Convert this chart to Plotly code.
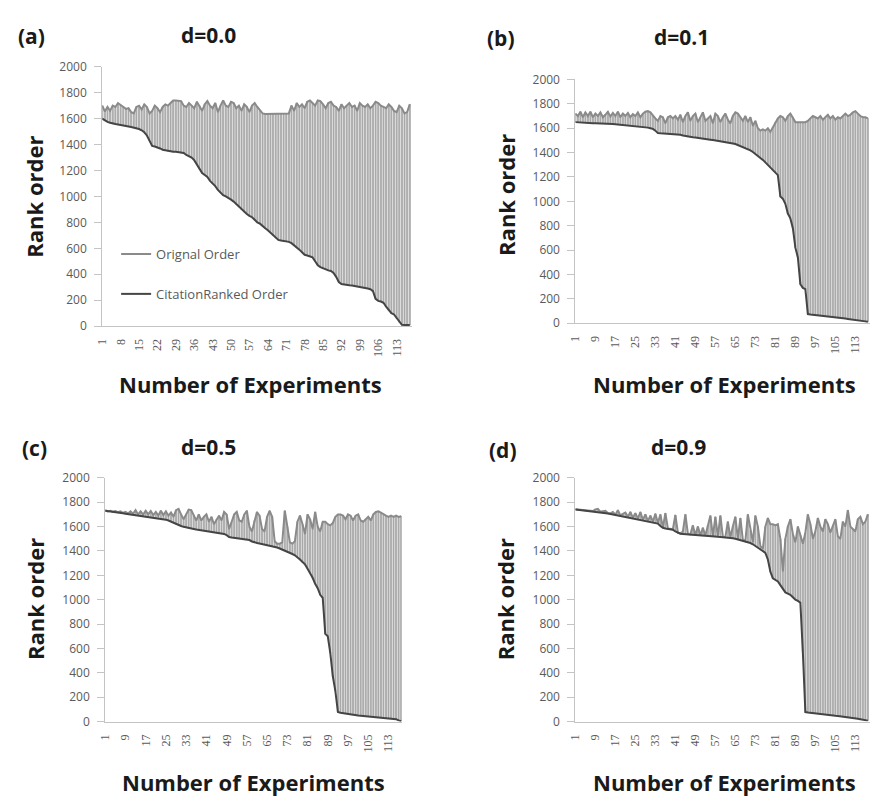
import plotly.graph_objects as go

# ---------------- data ----------------
experiments = list(range(1, 119))

x_ticks_a = list(range(1, 114, 7))
x_ticks_bcd = list(range(1, 114, 8))
y_ticks = list(range(0, 2001, 200))

panel_labels = ["(a)", "(b)", "(c)", "(d)"]
d_titles = ["d=0.0", "d=0.1", "d=0.5", "d=0.9"]
series_names = ["Orignal Order", "CitationRanked Order"]
x_title = "Number of Experiments"
y_title = "Rank order"

a_orig = [1700, 1655, 1690, 1660, 1700, 1690, 1720, 1705, 1690, 1675,
          1680, 1650, 1640, 1690, 1700, 1670, 1710, 1690, 1640, 1660,
          1700, 1680, 1650, 1690, 1710, 1700, 1720, 1740, 1740, 1738,
          1735, 1700, 1690, 1720, 1700, 1680, 1730, 1700, 1660, 1710,
          1735, 1700, 1680, 1720, 1650, 1700, 1740, 1700, 1690, 1730,
          1720, 1680, 1700, 1660, 1710, 1690, 1650, 1700, 1720, 1690,
          1660, 1640, 1635, 1635, 1635, 1635, 1635, 1635, 1635, 1635,
          1635, 1640, 1700, 1660, 1720, 1690, 1710, 1680, 1730, 1740,
          1720, 1700, 1740, 1735, 1710, 1680, 1720, 1730, 1700, 1690,
          1660, 1710, 1680, 1700, 1720, 1690, 1700, 1660, 1720, 1700,
          1690, 1710, 1680, 1700, 1730, 1720, 1700, 1690, 1680, 1710,
          1690, 1660, 1650, 1700, 1680, 1640, 1650, 1710]
a_rank = [1600, 1585, 1575, 1568, 1560, 1558, 1555, 1552, 1550, 1548,
          1540, 1535, 1530, 1528, 1520, 1510, 1495, 1470, 1430, 1390,
          1385, 1380, 1370, 1360, 1355, 1350, 1348, 1345, 1345, 1340,
          1338, 1335, 1320, 1310, 1300, 1280, 1250, 1210, 1180, 1165,
          1150, 1120, 1100, 1080, 1050, 1030, 1010, 1000, 990, 975,
          960, 940, 920, 900, 880, 865, 850, 840, 820, 800,
          790, 770, 755, 740, 720, 700, 680, 665, 660, 658,
          655, 650, 640, 625, 605, 590, 570, 550, 545, 540,
          530, 500, 470, 455, 445, 438, 430, 425, 410, 380,
          340, 325, 320, 318, 315, 313, 310, 305, 300, 298,
          295, 290, 285, 270, 210, 195, 190, 180, 150, 120,
          100, 90, 60, 30, 10, 8, 8, 8]

b_orig = [1720, 1700, 1735, 1690, 1730, 1700, 1735, 1690, 1720, 1700,
          1730, 1690, 1710, 1735, 1695, 1725, 1700, 1735, 1690, 1720,
          1700, 1725, 1690, 1715, 1700, 1730, 1690, 1720, 1735, 1740,
          1730, 1700, 1680, 1660, 1700, 1690, 1640, 1690, 1700, 1680,
          1700, 1670, 1710, 1650, 1700, 1730, 1660, 1700, 1720, 1650,
          1690, 1730, 1660, 1680, 1700, 1640, 1720, 1700, 1650, 1690,
          1720, 1670, 1640, 1700, 1730, 1720, 1690, 1660, 1700, 1650,
          1690, 1620, 1660, 1600, 1580, 1590, 1580, 1600, 1570, 1610,
          1650, 1680, 1700, 1690, 1660, 1700, 1720, 1690, 1650, 1650,
          1650, 1650, 1650, 1660, 1680, 1700, 1690, 1680, 1700, 1670,
          1690, 1710, 1680, 1700, 1670, 1690, 1680, 1700, 1720, 1700,
          1710, 1730, 1740, 1720, 1700, 1690, 1690, 1680]
b_rank = [1650, 1648, 1646, 1645, 1644, 1643, 1642, 1641, 1640, 1640,
          1639, 1638, 1637, 1636, 1635, 1634, 1632, 1630, 1628, 1627,
          1626, 1625, 1623, 1621, 1620, 1618, 1615, 1612, 1608, 1605,
          1600, 1595, 1580, 1560, 1558, 1557, 1556, 1555, 1554, 1553,
          1552, 1550, 1546, 1540, 1535, 1530, 1528, 1526, 1524, 1520,
          1516, 1512, 1510, 1508, 1506, 1503, 1500, 1497, 1494, 1490,
          1487, 1482, 1478, 1475, 1470, 1462, 1455, 1448, 1440, 1430,
          1418, 1405, 1390, 1375, 1360, 1340, 1320, 1300, 1280, 1260,
          1240, 1215, 1040, 1020, 980, 900, 860, 780, 620, 540,
          320, 290, 280, 75, 72, 70, 68, 65, 63, 60,
          57, 55, 52, 50, 48, 45, 42, 40, 38, 35,
          33, 30, 28, 25, 23, 20, 15, 12]

c_orig = [1735, 1725, 1730, 1722, 1728, 1718, 1725, 1712, 1720, 1708,
          1725, 1705, 1735, 1700, 1725, 1698, 1730, 1700, 1728, 1695,
          1720, 1690, 1730, 1695, 1725, 1690, 1715, 1680, 1735, 1745,
          1700, 1660, 1700, 1740, 1735, 1690, 1650, 1700, 1650, 1680,
          1700, 1640, 1680, 1620, 1660, 1690, 1650, 1720, 1700, 1580,
          1640, 1700, 1720, 1650, 1640, 1700, 1730, 1600, 1560, 1650,
          1720, 1690, 1580, 1560, 1680, 1730, 1680, 1480, 1460, 1460,
          1470, 1730, 1600, 1470, 1460, 1480, 1640, 1690, 1620, 1540,
          1700, 1660, 1580, 1720, 1600, 1560, 1640, 1640, 1620, 1610,
          1630, 1680, 1700, 1700, 1690, 1660, 1700, 1690, 1650, 1690,
          1700, 1650, 1640, 1660, 1680, 1650, 1700, 1720, 1725, 1715,
          1700, 1690, 1680, 1690, 1680, 1690, 1680, 1685]
c_rank = [1730, 1728, 1725, 1722, 1720, 1716, 1712, 1710, 1706, 1703,
          1700, 1698, 1695, 1692, 1690, 1686, 1682, 1678, 1675, 1672,
          1668, 1665, 1662, 1660, 1657, 1650, 1640, 1630, 1620, 1612,
          1605, 1598, 1592, 1588, 1584, 1580, 1576, 1573, 1570, 1567,
          1565, 1562, 1558, 1555, 1552, 1548, 1544, 1540, 1530, 1515,
          1510, 1508, 1506, 1504, 1502, 1500, 1498, 1490, 1478, 1470,
          1466, 1462, 1458, 1454, 1450, 1446, 1442, 1435, 1428, 1420,
          1412, 1405, 1395, 1385, 1375, 1365, 1350, 1330, 1310, 1290,
          1255, 1220, 1180, 1130, 1095, 1040, 1015, 720, 700, 560,
          370, 250, 78, 72, 68, 64, 60, 57, 55, 52,
          50, 48, 46, 44, 42, 40, 38, 36, 35, 34,
          32, 30, 29, 28, 26, 20, 10, 3]

d_orig = [1742, 1740, 1738, 1737, 1735, 1733, 1730, 1728, 1740, 1745,
          1722, 1725, 1730, 1712, 1708, 1720, 1698, 1735, 1692, 1705,
          1715, 1680, 1720, 1672, 1710, 1665, 1720, 1655, 1700, 1645,
          1690, 1640, 1705, 1630, 1700, 1592, 1710, 1585, 1582, 1578,
          1695, 1550, 1545, 1560, 1700, 1540, 1537, 1610, 1530, 1600,
          1528, 1590, 1526, 1610, 1690, 1522, 1680, 1520, 1690, 1516,
          1515, 1640, 1510, 1600, 1680, 1500, 1670, 1490, 1480, 1700,
          1570, 1470, 1690, 1600, 1440, 1420, 1600, 1670, 1620, 1620,
          1610, 1620, 1500, 1230, 1500, 1600, 1660, 1540, 1470, 1600,
          1530, 1460, 1550, 1700, 1620, 1500, 1560, 1670, 1600, 1560,
          1660, 1620, 1550, 1600, 1660, 1520, 1500, 1640, 1600, 1735,
          1600, 1580, 1560, 1660, 1680, 1620, 1640, 1700]
d_rank = [1740, 1738, 1736, 1734, 1732, 1730, 1728, 1726, 1724, 1722,
          1720, 1716, 1712, 1708, 1704, 1700, 1696, 1692, 1688, 1684,
          1680, 1676, 1672, 1668, 1665, 1660, 1655, 1650, 1645, 1640,
          1636, 1632, 1630, 1625, 1605, 1590, 1585, 1582, 1580, 1575,
          1560, 1548, 1542, 1540, 1538, 1536, 1534, 1530, 1528, 1526,
          1525, 1524, 1523, 1522, 1521, 1520, 1518, 1516, 1515, 1514,
          1512, 1510, 1507, 1504, 1500, 1495, 1490, 1484, 1478, 1472,
          1465, 1455, 1440, 1425, 1410, 1395, 1385, 1330, 1230, 1175,
          1165, 1150, 1120, 1090, 1060, 1050, 1040, 1020, 1000, 990,
          975, 570, 78, 75, 72, 70, 67, 65, 62, 60,
          58, 55, 52, 50, 48, 46, 44, 42, 40, 38,
          35, 32, 28, 24, 20, 15, 10, 8]

# ---------------- layout helpers ----------------
W, H = 870, 803


def fx(px):
    return px / W


def fy(py):
    return 1 - py / H


FONT = "Open Sans"
ORIG_COLOR = "#8a8a8a"
RANK_COLOR = "#454545"
AXIS_COLOR = "#c4c4c4"
TICK_COLOR = "#5a5a5a"

# pixel geometry: x0 = pixel of category 1, step = pixels per category
panels = [
    dict(orig=a_orig, rank=a_rank, ticks=x_ticks_a, x0=96, step=2.65, py=(59, 324), xend=408,
         lab=(25, 28), tit=(203, 27), ytit=(27, 192), xtit=(245, 383)),
    dict(orig=b_orig, rank=b_rank, ticks=x_ticks_bcd, x0=573, step=2.52, py=(72, 321), xend=870,
         lab=(498, 30), tit=(680, 29), ytit=(503, 190), xtit=(723, 383)),
    dict(orig=c_orig, rank=c_rank, ticks=x_ticks_bcd, x0=99, step=2.55, py=(479, 728), xend=398,
         lab=(28, 449), tit=(203, 447), ytit=(28, 603), xtit=(248, 790)),
    dict(orig=d_orig, rank=d_rank, ticks=x_ticks_bcd, x0=573, step=2.52, py=(479, 728), xend=870,
         lab=(500, 451), tit=(677, 447), ytit=(502, 603), xtit=(723, 790)),
]

fig = go.Figure()
layout = {}
annotations = []


def ann(text, xy, size, angle=0):
    return dict(text=text, x=fx(xy[0]), y=fy(xy[1]), xref="paper", yref="paper",
                xanchor="center", yanchor="middle", showarrow=False, textangle=angle,
                font=dict(family=FONT, size=size, color="#1a1a1a"))


for k, p in enumerate(panels):
    n = k + 1
    xa = "x" if n == 1 else f"x{n}"
    ya = "y" if n == 1 else f"y{n}"
    diffs = [o - r for o, r in zip(p["orig"], p["rank"])]

    # high-low bars between the two series
    fig.add_trace(go.Bar(
        x=experiments, y=diffs, base=p["rank"], width=0.45,
        marker=dict(color="#c6c6c6", line=dict(color="#7a7a7a", width=0.5)),
        showlegend=False, hoverinfo="skip", xaxis=xa, yaxis=ya))
    fig.add_trace(go.Scatter(
        x=experiments, y=p["orig"], mode="lines", name=series_names[0],
        line=dict(color=ORIG_COLOR, width=2), showlegend=(n == 1),
        legendgroup="g1", xaxis=xa, yaxis=ya))
    fig.add_trace(go.Scatter(
        x=experiments, y=p["rank"], mode="lines", name=series_names[1],
        line=dict(color=RANK_COLOR, width=2), showlegend=(n == 1),
        legendgroup="g2", xaxis=xa, yaxis=ya))

    xmax = 1 + (p["xend"] - p["x0"]) / p["step"]
    layout["xaxis" if n == 1 else f"xaxis{n}"] = dict(
        domain=[fx(p["x0"]), fx(p["xend"])], range=[1, xmax],
        anchor=ya, showgrid=False, zeroline=False, showline=True,
        linecolor=AXIS_COLOR, linewidth=1, ticks="",
        tickmode="array", tickvals=p["ticks"], ticktext=[str(t) for t in p["ticks"]],
        tickangle=-90, ticklabelstandoff=7,
        tickfont=dict(family="Liberation Serif", size=12, color=TICK_COLOR))
    layout["yaxis" if n == 1 else f"yaxis{n}"] = dict(
        domain=[fy(p["py"][1]), fy(p["py"][0])], range=[0, 2000],
        anchor=xa, showgrid=False, zeroline=False, showline=True,
        linecolor=AXIS_COLOR, linewidth=1, ticks="outside", ticklen=7,
        tickcolor=AXIS_COLOR, tickmode="array", tickvals=y_ticks,
        ticktext=[str(t) for t in y_ticks], ticklabelstandoff=5,
        tickfont=dict(family=FONT, size=12, color=TICK_COLOR))

    annotations += [
        ann(f"<b>{panel_labels[k]}</b>", p["lab"], 21),
        ann(f"<b>{d_titles[k]}</b>", p["tit"], 21),
        ann(f"<b>{y_title}</b>", p["ytit"], 22, -90),
        ann(f"<b>{x_title}</b>", p["xtit"], 22),
    ]

fig.update_layout(
    width=W, height=H,
    margin=dict(l=0, r=0, t=0, b=0),
    paper_bgcolor="white", plot_bgcolor="white",
    barmode="overlay",
    annotations=annotations,
    legend=dict(x=fx(110), y=fy(235), xanchor="left", yanchor="top",
                bgcolor="rgba(0,0,0,0)", traceorder="grouped", tracegroupgap=20,
                itemwidth=30,
                font=dict(family=FONT, size=13, color="#5a5a5a")),
    **layout,
)

fig.write_html(
    "out.html",
    config={"displayModeBar": False},
    post_script="document.body.style.margin='0';document.body.style.overflow='hidden';",
)
